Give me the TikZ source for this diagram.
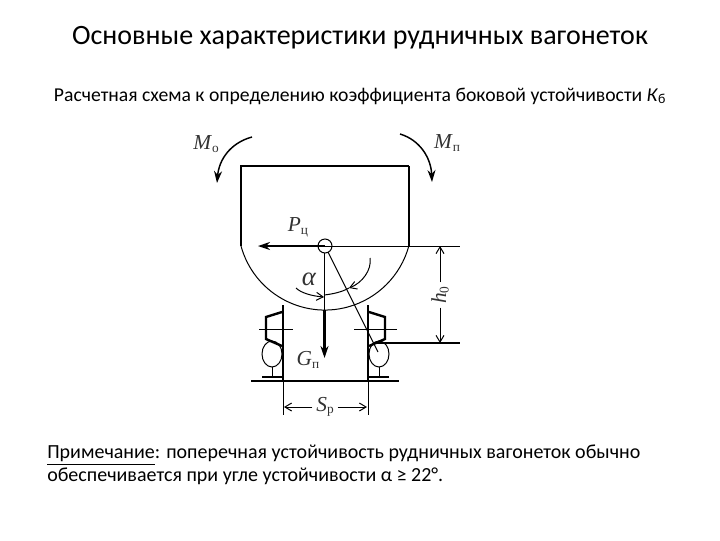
\documentclass[tikz,border=0pt]{standalone}
\usepackage{fontspec}
\setmainfont{Carlito}
\newfontfamily\labelfont{Liberation Serif}
\usetikzlibrary{arrows.meta}
\tikzset{
  thinline/.style={line width=0.75pt},
  midline/.style={line width=1.1pt},
  boldline/.style={line width=1.8pt},
  tip/.style={-{Stealth[length=9pt, width=6pt]}},
  smalltip/.style={-{Straight Barb[length=5pt, width=6pt]}},
  letter/.style={font=\labelfont\fontsize{16}{16}\selectfont, inner sep=0pt, outer sep=3pt, text=black!80},
}
\newcommand{\lab}[2]{\textit{#1}{\fontsize{10}{10}\selectfont\raisebox{-2pt}{#2}}}

\begin{document}
\begin{tikzpicture}[x=0.75pt, y=0.75pt]

  \useasboundingbox (0, -540) rectangle (720, 0);

  \node[font=\fontsize{21}{21}\selectfont] (title) at (360, -38) {Основные характеристики рудничных вагонеток};
  \node[font=\fontsize{14.75}{14.75}\selectfont] (subtitle) at (360, -96) {Расчетная схема к определению коэффициента боковой устойчивости \textit{К}\textsubscript{б}};
  \node[font=\fontsize{15}{17.25}\selectfont, anchor=north west, align=left, inner sep=0pt] (note) at (47, -445) {\underline{Примечание}: поперечная устойчивость рудничных вагонеток обычно\\обеспечивается при угле устойчивости α ≥ 22°.};

  % body
  \coordinate (centre) at (325, -246);
  \draw[boldline] (241, -246) -- (241, -166) -- (409, -166);
  \draw[midline] (409, -166) -- (409, -246);
  \draw[thinline] (241, -246) arc[start angle=195.3, end angle=344.7, radius=87];

  % force and arm
  \draw[thinline] (centre) circle (7);
  \draw[thinline] (centre) -- (460, -246);
  \coordinate (ptip) at (258, -246);
  \draw[midline, tip] (centre) -- (ptip);
  \draw[midline] (324.5, -253) -- (324.5, -310);
  \draw[boldline, tip] (324.5, -310) -- (324.5, -358);
  \draw[thinline] (328, -252) -- (378, -352);

  % wheels
  \foreach \cx/\side/\axo/\axi in {283/1/24/10, 368/-1/29/14} {
    \begin{scope}[shift={(\cx, 0)}, xscale=\side]
      \draw[midline] (0, -305) -- (0, -381);
      \draw[thinline] (0, -381) -- (0, -415);
      \draw[boldline] (-1, -312) -- (-17, -317) -- (-17, -339) -- (-1, -346);
      \draw[thinline] (-\axo, -329) -- (\axi, -329);
      \draw[thinline] (-11, -354) ellipse (10 and 13);
      \draw[thinline] (-11, -367) -- (-11, -377);
      \draw[midline] (-21, -377) -- (0, -377);
    \end{scope}
  }
  \draw[boldline] (251, -381) -- (399, -381);

  % moments
  \draw[midline, tip] (252, -137) .. controls (230, -143) and (219, -160) .. (217, -183);
  \draw[midline, tip] (400, -134) .. controls (420, -140) and (431, -158) .. (432, -182);

  % angle
  \draw[thinline, smalltip] (296, -288) .. controls (301, -293) and (312, -296) .. (324, -297);
  \draw[thinline] (324, -295) .. controls (333, -294) and (342, -292) .. (349, -288);
  \draw[thinline, smalltip] (370, -258) .. controls (372, -270) and (362, -283) .. (349, -288);

  % dimensions
  \draw[midline] (377, -343) -- (460, -343);
  \node[letter, rotate=90] (hzero) at (440, -295) {\lab{h}{0}};
  \draw[thinline, smalltip] (hzero.east) -- (440, -246);
  \draw[thinline, smalltip] (hzero.west) -- (440, -343);
  \node[letter] (sp) at (325, -407) {\lab{S}{р}};
  \draw[thinline, smalltip] (sp.west) -- (284, -407);
  \draw[thinline, smalltip] (sp.east) -- (367, -407);

  % labels
  \node[letter] (mo) at (206, -144) {\lab{M}{о}};
  \node[letter] (mn) at (447, -143) {\lab{M}{п}};
  \node[letter] (pc) at (298, -227) {\lab{P}{ц}};
  \node[letter] (gn) at (308, -360) {\lab{G}{п}};
  \node[letter, font=\labelfont\fontsize{20}{20}\selectfont] (alpha) at (309, -279) {\textit{α}};

\end{tikzpicture}
\end{document}
